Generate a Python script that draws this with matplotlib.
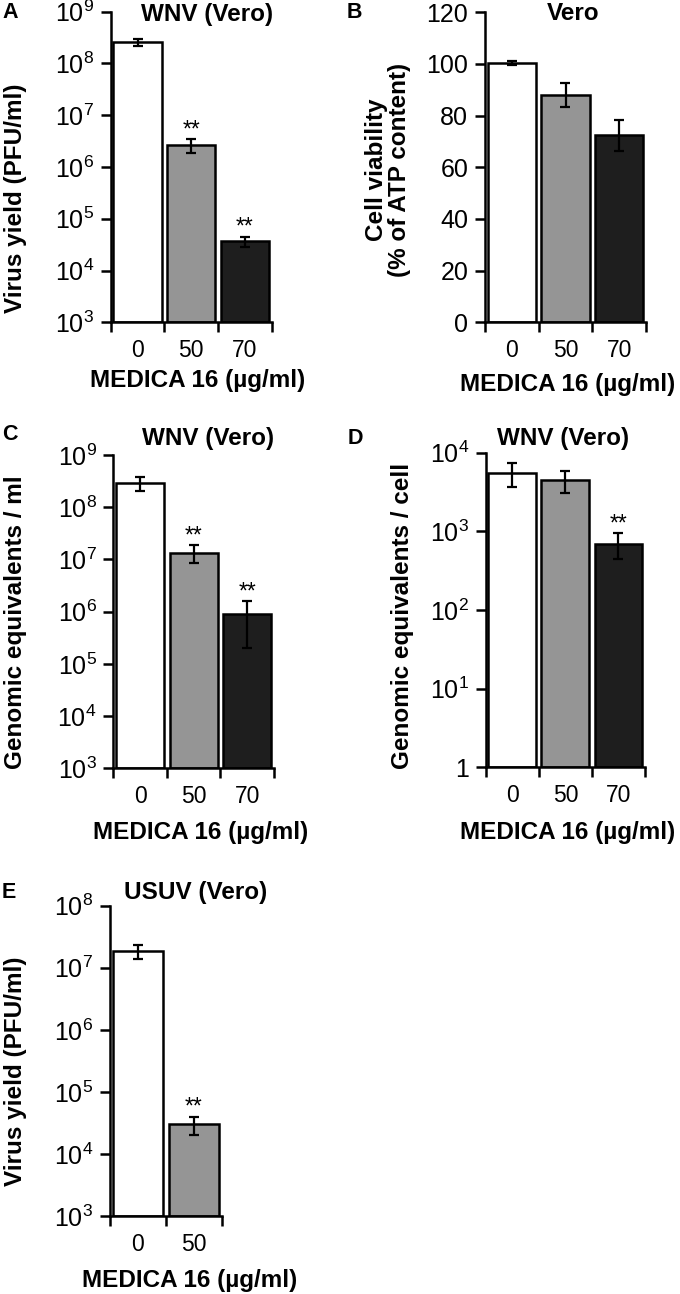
import matplotlib
matplotlib.use("Agg")
import matplotlib.pyplot as plt
import numpy as np
from matplotlib.ticker import FixedLocator, NullLocator

plt.rcParams['font.family'] = ['Liberation Sans', 'DejaVu Sans']
plt.rcParams['mathtext.fontset'] = 'custom'
plt.rcParams['mathtext.rm'] = 'Liberation Sans'
plt.rcParams['mathtext.default'] = 'regular'

# data
doses = ["0", "50", "70"]
doses_e = ["0", "50"]
colors = ["white", "#959595", "#1e1e1e"]

wnv_yield = [2.6e8, 2.7e6, 3.7e4]
wnv_yield_err = [0.4e8, 0.8e6, 0.8e4]
wnv_yield_sig = [False, True, True]

viability = [100.3, 88, 72.5]
viability_err = [0.8, 4.7, 6.0]

ge_ml = [2.9e8, 1.35e7, 9.0e5]
ge_ml_err = [0.85e8, 0.5e7, 0.7e6]
ge_ml_sig = [False, True, True]

ge_cell = [5600, 4500, 700]
ge_cell_err = [1900, 1400, 250]
ge_cell_sig = [False, False, True]

usuv_yield = [1.85e7, 3.0e4]
usuv_yield_err = [0.45e7, 1.0e4]
usuv_yield_sig = [False, True]

W, H = 680, 1294
fig = plt.figure(figsize=(W / 100, H / 100), dpi=100)

FS_XTICK = 16.5
FS_YTICK = 18
FS_BOLD = 17.5


def px_axes(left, right, top, bottom):
	return fig.add_axes([left / W, 1 - bottom / H, (right - left) / W, (bottom - top) / H])


def ftext(x, y, s, **kw):
	fig.text(x / W, 1 - y / H, s, **kw)


def draw(ax, labels, vals, errs, sig, log=True, ylim=None, yticks=None, yticklabels=None):
	x = np.arange(len(vals))
	bottom = ylim[0] if log else 0
	heights = [v - bottom for v in vals] if log else vals
	ax.bar(x, heights, 0.9, bottom=bottom, color=colors[:len(vals)],
		   edgecolor="black", linewidth=1.8, zorder=2)
	ax.errorbar(x, vals, yerr=errs, fmt="none", ecolor="black",
				elinewidth=1.6, capsize=3.5, capthick=1.6, zorder=3)
	for i in range(len(vals)):
		if sig[i]:
			ax.annotate("**", xy=(x[i], vals[i] + errs[i]), xytext=(0, 2),
						textcoords="offset points", ha="center", va="baseline",
						fontsize=FS_XTICK)
	if log:
		ax.set_yscale("log")
	ax.set_ylim(*ylim)
	ax.set_xlim(-0.5, len(vals) - 0.5)
	ax.yaxis.set_major_locator(FixedLocator(yticks))
	ax.yaxis.set_minor_locator(NullLocator())
	ax.set_yticklabels(yticklabels)
	ax.set_xticks(x)
	ax.set_xticklabels(labels)
	ax.set_xticks(np.arange(len(vals) + 1) - 0.5, minor=True)
	ax.tick_params(axis="x", which="major", length=0, labelsize=FS_XTICK, pad=12)
	ax.tick_params(axis="x", which="minor", length=7, width=1.8, direction="out")
	ax.tick_params(axis="y", which="major", length=7, width=1.8, direction="out",
				   labelsize=FS_YTICK, pad=5)
	for s in ["top", "right"]:
		ax.spines[s].set_visible(False)
	for s in ["left", "bottom"]:
		ax.spines[s].set_linewidth(1.8)
	ax.patch.set_alpha(0)


def pow_labels(lo, hi):
	return [f"$10^{{{k}}}$" for k in range(lo, hi + 1)]


# A
axA = px_axes(110.7, 271.7, 11.7, 322.3)
draw(axA, doses, wnv_yield, wnv_yield_err, wnv_yield_sig, ylim=(1e3, 1e9),
	 yticks=[10.0 ** k for k in range(3, 10)], yticklabels=pow_labels(3, 9))

# B
axB = px_axes(485, 646, 12.3, 322.3)
draw(axB, doses, viability, viability_err, [False] * 3, log=False, ylim=(0, 120),
	 yticks=list(range(0, 121, 20)), yticklabels=[str(v) for v in range(0, 121, 20)])

# C
axC = px_axes(113.3, 274, 455, 768.3)
draw(axC, doses, ge_ml, ge_ml_err, ge_ml_sig, ylim=(1e3, 1e9),
	 yticks=[10.0 ** k for k in range(3, 10)], yticklabels=pow_labels(3, 9))

# D
axD = px_axes(485.7, 645, 452.7, 767.3)
draw(axD, doses, ge_cell, ge_cell_err, ge_cell_sig, ylim=(1, 1e4),
	 yticks=[10.0 ** k for k in range(0, 5)], yticklabels=["1"] + pow_labels(1, 4))

# E
axE = px_axes(110, 222, 905.7, 1216)
draw(axE, doses_e, usuv_yield, usuv_yield_err, usuv_yield_sig, ylim=(1e3, 1e8),
	 yticks=[10.0 ** k for k in range(3, 9)], yticklabels=pow_labels(3, 8))

bold = dict(fontsize=FS_BOLD, fontweight="bold", ha="center", va="center")
xlab = "MEDICA 16 (µg/ml)"

# titles
ftext(207, 14, "WNV (Vero)", **bold)
ftext(573, 14, "Vero", **bold)
ftext(208, 438, "WNV (Vero)", **bold)
ftext(563, 438, "WNV (Vero)", **bold)
ftext(196, 893, "USUV (Vero)", **bold)

# x labels
ftext(198, 380, xlab, **bold)
ftext(568, 385, xlab, **bold)
ftext(201, 832, xlab, **bold)
ftext(568, 832, xlab, **bold)
ftext(190, 1280, xlab, **bold)

# y labels
ftext(16, 198, "Virus yield (PFU/ml)", rotation=90, **bold)
ftext(388, 170, "Cell viability\n(% of ATP content)", rotation=90, linespacing=1.05, **bold)
ftext(16, 622, "Genomic equivalents / ml", rotation=90, **bold)
ftext(402, 616, "Genomic equivalents / cell", rotation=90, **bold)
ftext(16, 1071, "Virus yield (PFU/ml)", rotation=90, **bold)

# panel letters
letter = dict(fontsize=15.5, fontweight="bold", ha="left", va="center")
ftext(2, 13, "A", **letter)
ftext(347, 13, "B", **letter)
ftext(2, 435, "C", **letter)
ftext(348, 438, "D", **letter)
ftext(2, 892, "E", **letter)

fig.savefig("out.png", dpi=100)
